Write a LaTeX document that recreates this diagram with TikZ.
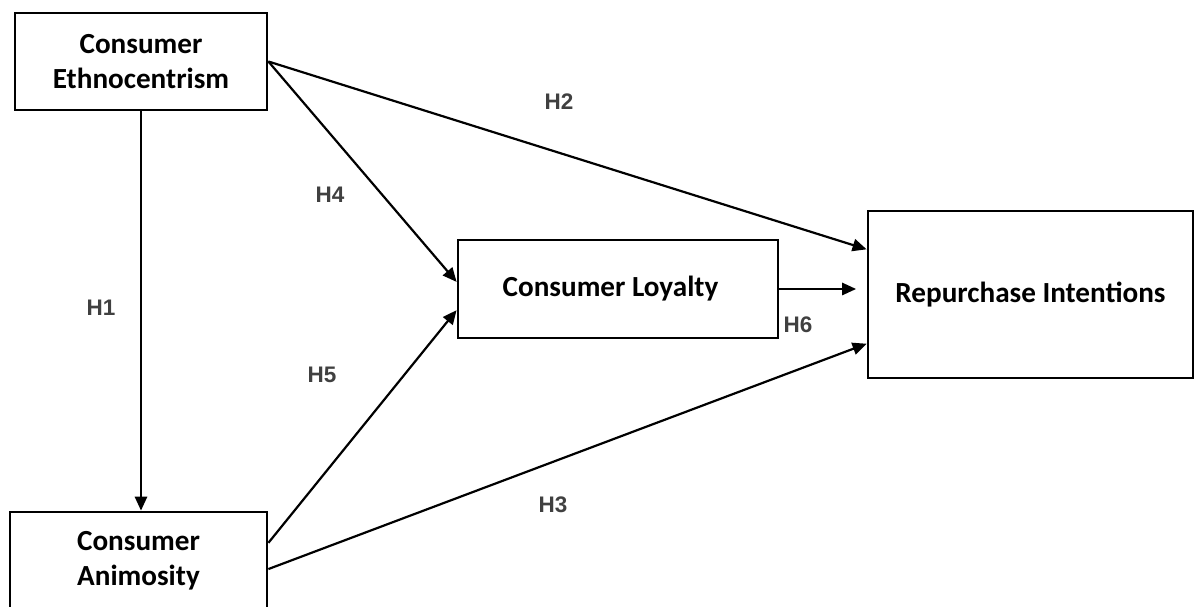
\documentclass[tikz,border=0pt]{standalone}
\usepackage{fontspec}
\setmainfont{Carlito}
\newfontfamily\hypfont{Liberation Sans}
\usetikzlibrary{arrows.meta,calc}
\definecolor{hypgray}{HTML}{404040}

\begin{document}
\begin{tikzpicture}[x=0.02cm,y=-0.02cm,>={Triangle[length=8pt,width=7pt]},
    box/.style={shape=rectangle,draw=black,line width=1.6pt,align=center,inner sep=0pt,
                font=\fontsize{16.6}{19.8}\selectfont\bfseries},
    hyp/.style={font=\hypfont\fontsize{12.8}{15}\selectfont\bfseries,text=hypgray},
    link/.style={->,line width=1.25pt}]
    \useasboundingbox (0,0) rectangle (1197,607);
    \clip (0,0) rectangle (1197,607);
    \node[box,minimum width=5.04cm,minimum height=1.94cm] (eth) at (141,61.5) {Consumer\\Ethnocentrism};
    \node[box,minimum width=5.14cm,minimum height=1.96cm] (ani) at (138.5,561) {Consumer\\Animosity};
    \node[box,minimum width=6.4cm,minimum height=1.96cm] (loy) at (618,289) {Consumer Loyalty\hspace{0.3cm}};
    \node[box,minimum width=6.5cm,minimum height=3.34cm] (rep) at (1030.5,294.5) {Repurchase Intentions};
    \node[hyp] (h1) at (101,308) {H1};
    \node[hyp] (h2) at (559,102) {H2};
    \node[hyp] (h3) at (553,505) {H3};
    \node[hyp] (h4) at (330,195) {H4};
    \node[hyp] (h5) at (322,375) {H5};
    \node[hyp] (h6) at (798,325) {H6};
    \draw[link] (eth.south) -- (eth.south |- ani.north);
    \draw[link] (eth.east) -- ($(rep.north west)!0.234!(rep.south west)$);
    \draw[link] (eth.east) -- ($(loy.north west)!0.43!(loy.south west)$);
    \draw[link] ($(ani.north east)!0.32!(ani.south east)$) -- ($(loy.north west)!0.71!(loy.south west)$);
    \draw[link] ($(ani.north east)!0.58!(ani.south east)$) -- ($(rep.north west)!0.79!(rep.south west)$);
    \draw[link,shorten >=6pt] (loy.east) -- (loy.east -| rep.west);
\end{tikzpicture}
\end{document}
